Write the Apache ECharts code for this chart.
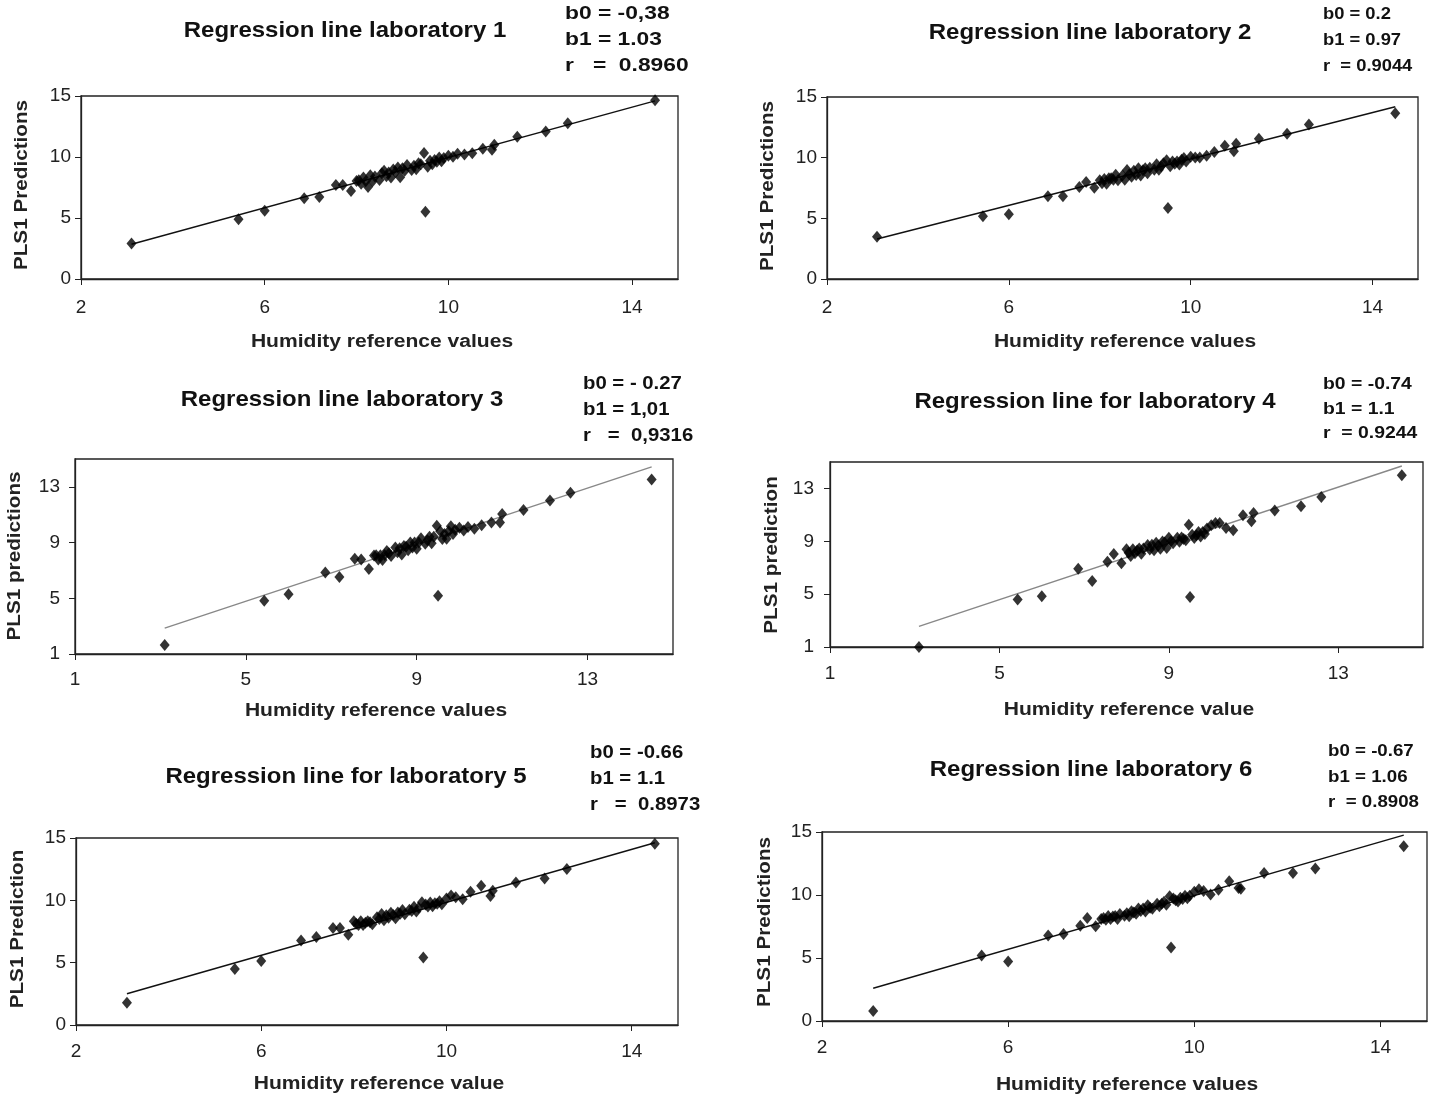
<!DOCTYPE html>
<html>
<head>
<meta charset="utf-8">
<script src="https://cdn.jsdelivr.net/npm/echarts@6/dist/echarts.min.js"></script>
<style>
  html, body { margin: 0; padding: 0; background: #fff; }
  #chart { width: 1431px; height: 1099px; }
</style>
</head>
<body>
<div id="chart"></div>
<script>
// humidity reference values (same samples for every laboratory)
const refIso = [3.1, 5.43, 6.0, 6.86, 7.19, 7.55, 7.7, 7.88, 8.0, 8.25, 9.47, 9.5, 10.35, 10.52, 10.75, 10.95, 11.0, 11.5, 12.12, 12.6, 14.5];
const refCluster = [8.05, 8.1, 8.15, 8.2, 8.3, 8.35, 8.4, 8.5, 8.55, 8.6, 8.65, 8.7, 8.75, 8.8, 8.85, 8.9, 8.95, 9.0, 9.05, 9.1,
  9.2, 9.25, 9.3, 9.35, 9.4, 9.55, 9.6, 9.65, 9.7, 9.75, 9.8, 9.85, 9.9, 10.0, 10.1, 10.2];

// PLS1 predictions per laboratory
const lab1Iso = [2.9, 4.9, 5.6, 6.62, 6.73, 7.7, 7.7, 7.22, 8.03, 7.54, 10.32, 5.51, 10.2, 10.3, 10.68, 10.6, 11.0, 11.65, 12.08, 12.76, 14.65];
const lab1Cluster = [8.10, 7.80, 8.31, 8.01, 8.51, 8.01, 8.41, 8.12, 8.67, 8.87, 8.42, 8.72, 8.32, 8.98, 8.78, 9.13, 8.33, 9.08, 8.88, 9.34,
  8.94, 9.29, 8.99, 9.49, 9.40, 9.20, 9.70, 9.40, 9.75, 9.61, 9.96, 9.66, 9.91, 10.11, 10.02, 10.27];
const lab2Iso = [3.48, 5.18, 5.34, 6.82, 6.82, 7.59, 8.0, 7.53, 8.14, 8.3, 9.78, 5.86, 10.15, 10.47, 10.99, 10.52, 11.15, 11.56, 11.97, 12.74, 13.67];
const lab2Cluster = [7.90, 8.25, 7.85, 8.30, 8.19, 8.59, 8.14, 8.54, 8.18, 8.98, 8.63, 8.43, 8.93, 8.57, 9.12, 8.52, 8.97, 9.12, 8.71, 9.16,
  9.01, 9.46, 9.00, 9.30, 9.55, 9.29, 9.69, 9.49, 9.69, 9.44, 9.83, 9.98, 9.68, 10.08, 10.02, 10.02];
const lab3Iso = [1.65, 4.83, 5.29, 6.86, 6.52, 7.83, 7.78, 7.1, 8.07, 8.1, 10.2, 5.19, 10.0, 10.25, 10.44, 10.44, 11.05, 11.34, 12.02, 12.57, 13.52];
const lab3Cluster = [8.09, 7.79, 8.09, 7.74, 8.39, 8.24, 8.04, 8.65, 8.30, 8.60, 8.15, 8.75, 8.70, 8.45, 9.00, 8.65, 9.00, 8.55, 9.00, 9.31,
  8.91, 9.16, 9.41, 8.96, 9.41, 9.81, 9.26, 9.61, 9.27, 9.82, 10.17, 9.62, 9.92, 10.07, 9.87, 10.12];
const lab4Iso = [1.0, 4.6, 4.85, 6.92, 6.0, 7.45, 8.04, 7.33, 8.4, 8.3, 10.26, 4.78, 10.0, 9.83, 10.97, 10.52, 11.15, 11.33, 11.66, 12.35, 14.0];
const lab4Cluster = [8.14, 7.89, 8.40, 8.10, 8.46, 8.06, 8.46, 8.72, 8.37, 8.73, 8.33, 8.88, 8.69, 8.44, 8.99, 8.90, 8.50, 9.26, 9.01, 8.86,
  9.27, 8.97, 9.28, 9.18, 9.08, 9.49, 9.25, 9.45, 9.70, 9.36, 9.71, 9.56, 9.97, 10.22, 10.38, 10.39];
const lab5Iso = [1.78, 4.49, 5.14, 6.78, 7.05, 7.78, 7.78, 7.24, 8.32, 8.2, 9.85, 5.41, 10.08, 10.68, 11.16, 10.35, 10.76, 11.43, 11.76, 12.51, 14.54];
const lab5Cluster = [8.12, 8.02, 8.32, 8.03, 8.33, 8.24, 8.09, 8.64, 8.50, 8.90, 8.40, 8.81, 8.61, 9.01, 8.82, 8.57, 9.02, 8.93, 9.23, 8.88,
  9.24, 9.14, 9.49, 9.10, 9.40, 9.66, 9.51, 9.82, 9.52, 9.77, 9.73, 9.93, 9.68, 10.14, 10.39, 10.25];
const lab6Iso = [0.8, 5.2, 4.72, 6.79, 6.9, 7.56, 8.17, 7.51, 8.09, 8.3, 9.9, 5.84, 10.03, 10.42, 11.09, 10.56, 10.5, 11.75, 11.75, 12.1, 13.87];
const lab6Cluster = [8.18, 8.03, 8.33, 8.09, 8.34, 8.10, 8.50, 8.36, 8.56, 8.31, 8.72, 8.62, 8.52, 8.93, 8.73, 8.93, 8.69, 9.19, 8.99, 8.90,
  9.30, 9.11, 9.31, 9.46, 9.22, 9.73, 9.58, 9.48, 9.79, 9.69, 9.94, 9.75, 9.95, 10.26, 10.46, 10.32];

// regression line end points
const fitX = [3.1, 14.5];
const lab1Fit = [2.85, 14.6];
const lab2Fit = [3.3, 14.2];
const lab3Fit = [2.86, 14.44];
const lab4Fit = [2.56, 14.7];
const lab5Fit = [2.51, 14.62];
const lab6Fit = [2.6, 14.75];

const FONT = 'Liberation Sans, Arial, sans-serif';

// layout of every panel: texts positions in px, plot box, axes
const panels = [
  {title: 'Regression line laboratory 1', tx: 345, ty: 31,
    stats: ['b0 = -0,38', 'b1 = 1.03', 'r   =  0.8960'], sx: 565, sy: [14, 40, 66], sFont: 19, sScale: 1.2,
    grid: {left: 81, top: 96, width: 597, height: 183}, xMin: 2, yMin: 0, yInt: 5,
    yName: 'PLS1 Predictions', yx: 22, yy: 185, xName: 'Humidity reference values', xx: 382, xy: 342,
    lblGap: 19, yLblGap: 10,
    iso: lab1Iso, cluster: lab1Cluster, fit: lab1Fit, lineColor: '#111'},
  {title: 'Regression line laboratory 2', tx: 1090, ty: 33,
    stats: ['b0 = 0.2', 'b1 = 0.97', 'r  = 0.9044'], sx: 1323, sy: [14, 40, 66], sFont: 17, sScale: 1.08,
    grid: {left: 827, top: 97, width: 591, height: 182}, xMin: 2, yMin: 0, yInt: 5,
    yName: 'PLS1 Predictions', yx: 768, yy: 186, xName: 'Humidity reference values', xx: 1125, xy: 342,
    lblGap: 19, yLblGap: 10,
    iso: lab2Iso, cluster: lab2Cluster, fit: lab2Fit, lineColor: '#111'},
  {title: 'Regression line laboratory 3', tx: 342, ty: 400,
    stats: ['b0 = - 0.27', 'b1 = 1,01', 'r   =  0,9316'], sx: 583, sy: [384, 410, 436], sFont: 19, sScale: 1.07,
    grid: {left: 75, top: 459, width: 598, height: 195}, xMin: 1, yMin: 1, yInt: 4,
    yName: 'PLS1 predictions', yx: 15, yy: 556, xName: 'Humidity reference values', xx: 376, xy: 711,
    lblGap: 16, yLblGap: 15,
    iso: lab3Iso, cluster: lab3Cluster, fit: lab3Fit, lineColor: '#888'},
  {title: 'Regression line for laboratory 4', tx: 1095, ty: 402,
    stats: ['b0 = -0.74', 'b1 = 1.1', 'r  = 0.9244'], sx: 1323, sy: [384, 409, 433], sFont: 17, sScale: 1.14,
    grid: {left: 830, top: 462, width: 593, height: 185}, xMin: 1, yMin: 1, yInt: 4,
    yName: 'PLS1 prediction', yx: 772, yy: 555, xName: 'Humidity reference value', xx: 1129, xy: 710,
    lblGap: 17, yLblGap: 16,
    iso: lab4Iso, cluster: lab4Cluster, fit: lab4Fit, lineColor: '#888'},
  {title: 'Regression line for laboratory 5', tx: 346, ty: 777,
    stats: ['b0 = -0.66', 'b1 = 1.1', 'r   =  0.8973'], sx: 590, sy: [753, 779, 805], sFont: 19, sScale: 1.07,
    grid: {left: 76, top: 838, width: 602, height: 187}, xMin: 2, yMin: 0, yInt: 5,
    yName: 'PLS1 Prediction', yx: 18, yy: 929, xName: 'Humidity reference value', xx: 379, xy: 1084,
    lblGap: 17, yLblGap: 10,
    iso: lab5Iso, cluster: lab5Cluster, fit: lab5Fit, lineColor: '#111'},
  {title: 'Regression line laboratory 6', tx: 1091, ty: 770,
    stats: ['b0 = -0.67', 'b1 = 1.06', 'r  = 0.8908'], sx: 1328, sy: [751, 777, 802], sFont: 17, sScale: 1.1,
    grid: {left: 822, top: 832, width: 605, height: 189}, xMin: 2, yMin: 0, yInt: 5,
    yName: 'PLS1 Predictions', yx: 765, yy: 922, xName: 'Humidity reference values', xx: 1127, xy: 1085,
    lblGap: 17, yLblGap: 10,
    iso: lab6Iso, cluster: lab6Cluster, fit: lab6Fit, lineColor: '#111'}
];

const chart = echarts.init(document.getElementById('chart'));

// the scan's lettering is a bit wider than the font, hence scaleX
const graphics = [];
panels.forEach(p => {
  graphics.push({type: 'text', x: p.tx, y: p.ty, scaleX: 1.09,
    style: {text: p.title, font: 'bold 22px ' + FONT, fill: '#111', align: 'center', verticalAlign: 'middle'}});
  p.stats.forEach((s, k) => {
    graphics.push({type: 'text', x: p.sx, y: p.sy[k], scaleX: p.sScale,
      style: {text: s, font: 'bold ' + p.sFont + 'px ' + FONT, fill: '#111', align: 'left', verticalAlign: 'middle'}});
  });
  graphics.push({type: 'text', x: p.xx, y: p.xy, scaleX: 1.17,
    style: {text: p.xName, font: 'bold 18px ' + FONT, fill: '#222', align: 'center', verticalAlign: 'middle'}});
  graphics.push({type: 'text', x: p.yx, y: p.yy, rotation: Math.PI / 2, scaleX: 1.15,
    style: {text: p.yName, font: 'bold 18px ' + FONT, fill: '#222', align: 'center', verticalAlign: 'middle'}});
});

const series = [];
panels.forEach((p, i) => {
  const pts = refIso.map((x, k) => [x, p.iso[k]])
    .concat(refCluster.map((x, k) => [x, p.cluster[k]]));
  series.push({
    type: 'line', xAxisIndex: i, yAxisIndex: i, z: 2,
    data: fitX.map((x, k) => [x, p.fit[k]]),
    symbol: 'none', silent: true,
    lineStyle: {color: p.lineColor, width: 1.4}
  });
  series.push({
    type: 'scatter', xAxisIndex: i, yAxisIndex: i, z: 3,
    data: pts, symbol: 'diamond', symbolSize: [10, 12],
    itemStyle: {color: '#000'}
  });
});

chart.setOption({
  animation: false,
  backgroundColor: '#fff',
  grid: panels.map(p => Object.assign({show: true, borderColor: '#222', borderWidth: 1.3}, p.grid)),
  xAxis: panels.map((p, i) => ({
    type: 'value', gridIndex: i, min: p.xMin, max: 15, interval: 4,
    axisLine: {onZero: false, lineStyle: {color: '#222', width: 1.3}},
    axisTick: {length: 6, lineStyle: {color: '#222'}},
    axisLabel: {fontFamily: FONT, fontSize: 19, color: '#222', margin: p.lblGap, showMaxLabel: false},
    splitLine: {show: false}
  })),
  yAxis: panels.map((p, i) => ({
    type: 'value', gridIndex: i, min: p.yMin, max: 15, interval: p.yInt,
    axisLine: {onZero: false, lineStyle: {color: '#222', width: 1.3}},
    axisTick: {length: 6, lineStyle: {color: '#222'}},
    axisLabel: {fontFamily: FONT, fontSize: 19, color: '#222', margin: p.yLblGap, showMaxLabel: p.yInt === 5},
    splitLine: {show: false}
  })),
  graphic: graphics,
  series: series
});
</script>
</body>
</html>
